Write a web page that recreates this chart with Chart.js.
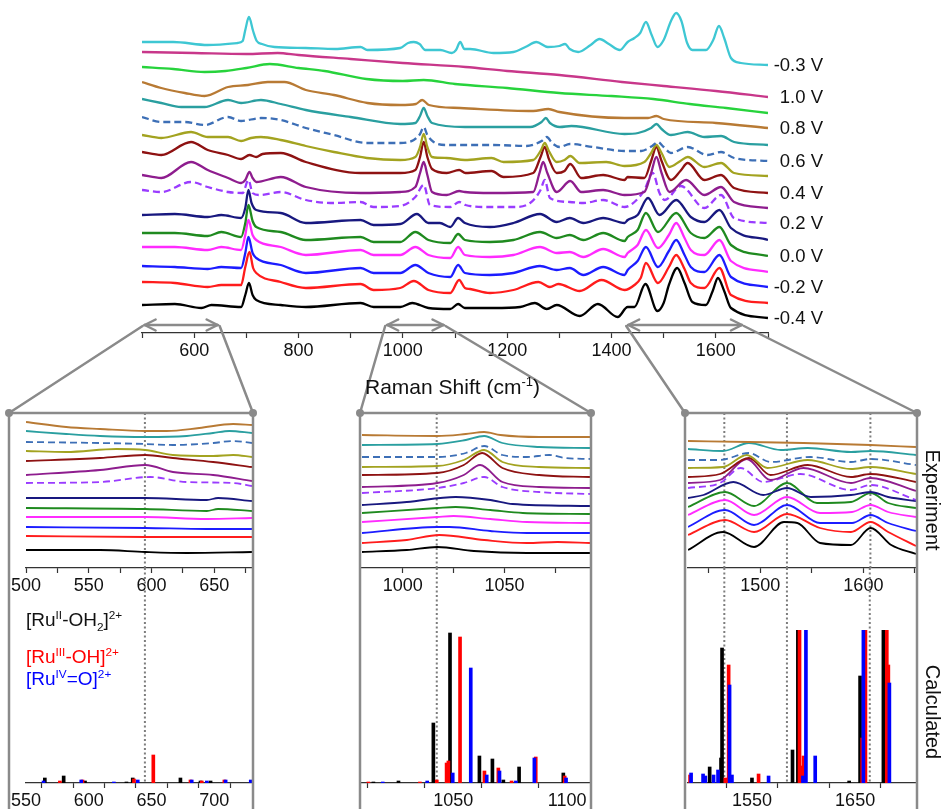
<!DOCTYPE html>
<html>
<head>
<meta charset="utf-8">
<script src="https://cdn.jsdelivr.net/npm/chart.js@4.4.1/dist/chart.umd.min.js"></script>
<style>
  body { margin: 0; background: #fff; font-family: 'Liberation Sans', Arial, sans-serif; }
  #fig { position: relative; width: 943px; height: 809px; overflow: hidden; background: #fff; }
  #fig canvas { position: absolute; }
  .txt { position: absolute; white-space: nowrap; color: #111; }
  .txt sup, .txt sub { font-size: 0.62em; line-height: 0; }
  .vlab { position: absolute; font-size: 20px; color: #111; white-space: nowrap;
          transform: translate(-50%, -50%) rotate(90deg); }
</style>
</head>
<body>
<div id="fig">
  <canvas id="main" width="943" height="360" style="left:0;top:0"></canvas>
  <canvas id="exp1" width="262" height="185" style="left:0;top:413px"></canvas>
  <canvas id="calc1" width="262" height="241" style="left:0;top:568px"></canvas>
  <canvas id="exp2" width="262" height="185" style="left:340px;top:413px"></canvas>
  <canvas id="calc2" width="262" height="241" style="left:340px;top:568px"></canvas>
  <canvas id="exp3" width="275" height="185" style="left:668px;top:413px"></canvas>
  <canvas id="calc3" width="275" height="241" style="left:668px;top:568px"></canvas>
  <canvas id="links" width="943" height="809" style="left:0;top:0;pointer-events:none"></canvas>

  <div class="txt" style="left:365px;top:375px;font-size:21px;line-height:24px">Raman Shift (cm<sup>-1</sup>)</div>
  <div class="txt" style="left:26px;top:610px;font-size:19px;line-height:20px">[Ru<sup>II</sup>-OH<sub>2</sub>]<sup>2+</sup></div>
  <div class="txt" style="left:26px;top:647px;font-size:19px;line-height:20px;color:#ff0000">[Ru<sup>III</sup>-OH]<sup>2+</sup></div>
  <div class="txt" style="left:26px;top:669px;font-size:19px;line-height:20px;color:#0000ff">[Ru<sup>IV</sup>=O]<sup>2+</sup></div>
  <div class="vlab" style="left:932px;top:500px">Experiment</div>
  <div class="vlab" style="left:932px;top:712px">Calculated</div>
</div>

<script>
// ---- measured spectra, [Raman shift cm-1, stacked intensity a.u.] ----
const sCyan = [[500,291],[560,291],[626,288],[683,290],[693,292],[698,303],[705,316],[713,302],[720,292],[730,289],[754,286],[814,285],[870,284],[919,286],[932,283],[995,285],[1010,290],[1021,291],[1032,289],[1043,283],[1072,283],[1094,280],[1102,283],[1110,291],[1118,284],[1129,284],[1174,280],[1212,281],[1235,286],[1256,291],[1278,286],[1300,287],[1311,289],[1320,284],[1336,281],[1360,288],[1377,294],[1395,289],[1416,283],[1431,291],[1444,295],[1455,300],[1466,311],[1477,298],[1488,286],[1500,293],[1514,312],[1524,320],[1534,312],[1545,290],[1555,283],[1581,283],[1595,293],[1606,307],[1616,295],[1629,275],[1648,270],[1700,268]];
const sPink = [[500,281],[600,280],[700,279],[760,280],[800,278],[900,274],[1000,270],[1120,266],[1200,262],[1300,258],[1420,251],[1500,247],[1600,242],[1700,236]];
const sLime = [[500,266],[560,264],[620,261],[660,262],[700,265],[745,269],[800,265],[850,262],[930,254],[1000,252],[1040,253],[1100,249],[1200,245],[1300,240],[1400,237],[1480,234],[1550,229],[1620,225],[1700,220]];
const sBrown = [[500,251],[537,245],[582,240],[620,237],[665,246],[703,248],[741,251],[773,251],[814,243],[868,238],[932,230],[995,228],[1025,229],[1037,233],[1050,228],[1110,225],[1250,222],[1279,224],[1300,221],[1425,215],[1470,215],[1486,217],[1500,214],[1600,210],[1700,205]];
const sTeal = [[500,234],[537,230],[575,226],[620,226],[665,233],[690,230],[728,233],[766,229],[814,223],[900,216],[995,209],[1024,210],[1033,217],[1040,225],[1047,217],[1056,210],[1119,206],[1244,206],[1266,211],[1274,215],[1282,210],[1301,206],[1323,207],[1425,199],[1451,200],[1476,205],[1486,209],[1496,204],[1514,198],[1546,201],[1578,196],[1610,197],[1635,191],[1700,188]];
const sSteel = [[500,216],[537,211],[582,211],[620,208],[665,216],[690,212],[728,215],[766,213],[814,205],[868,198],[931,190],[995,190],[1021,193],[1033,199],[1040,206],[1047,198],[1059,191],[1084,188],[1174,188],[1237,187],[1266,192],[1276,196],[1286,190],[1301,186],[1320,189],[1365,186],[1425,182],[1457,182],[1478,187],[1489,191],[1500,186],[1514,180],[1546,186],[1584,178],[1610,181],[1635,175],[1700,172]];
const sOlive = [[500,198],[537,195],[594,201],[626,196],[665,196],[690,192],[709,195],[728,196],[766,193],[814,187],[868,181],[931,175],[995,173],[1024,176],[1033,186],[1040,199],[1047,186],[1056,176],[1084,175],[1119,173],[1170,175],[1193,171],[1250,173],[1265,183],[1272,190],[1280,182],[1295,171],[1310,173],[1321,177],[1339,170],[1390,171],[1425,167],[1463,171],[1476,180],[1486,188],[1496,180],[1511,166],[1532,172],[1546,176],[1578,166],[1610,170],[1635,160],[1700,157]];
const sMaroon = [[500,181],[537,178],[594,191],[626,183],[665,178],[690,174],[706,178],[719,176],[731,179],[766,180],[814,171],[919,160],[995,160],[1024,163],[1033,176],[1040,191],[1047,176],[1056,164],[1084,160],[1108,163],[1120,160],[1170,162],[1193,156],[1250,160],[1264,176],[1272,186],[1280,174],[1295,160],[1310,162],[1321,169],[1342,155],[1384,158],[1425,153],[1431,156],[1463,155],[1476,172],[1486,186],[1496,172],[1514,153],[1532,162],[1546,170],[1578,153],[1610,158],[1635,145],[1700,140]];
const sPurple = [[500,158],[537,155],[594,171],[626,163],[665,155],[690,150],[698,153],[706,161],[712,155],[719,151],[766,156],[814,146],[919,140],[995,141],[1024,146],[1033,160],[1040,171],[1047,158],[1056,141],[1084,138],[1108,142],[1119,141],[1170,140],[1250,141],[1262,160],[1269,171],[1277,160],[1295,141],[1321,152],[1342,141],[1384,143],[1425,138],[1463,141],[1476,160],[1486,176],[1496,160],[1511,141],[1543,153],[1578,138],[1610,146],[1635,131],[1700,125]];
const sViolet = [[500,143],[537,141],[594,151],[626,146],[665,141],[693,140],[704,153],[712,140],[725,138],[766,141],[814,133],[868,130],[919,131],[944,126],[995,127],[1024,136],[1040,148],[1052,128],[1091,126],[1108,131],[1120,128],[1161,126],[1212,126],[1244,130],[1264,143],[1272,153],[1282,135],[1320,131],[1346,130],[1384,133],[1425,126],[1444,131],[1463,143],[1479,160],[1492,140],[1502,133],[1533,147],[1578,125],[1610,138],[1635,115],[1700,110]];
const sNavy = [[500,118],[563,119],[626,116],[652,118],[690,115],[698,125],[704,143],[710,130],[719,123],[766,120],[814,110],[919,113],[944,108],[995,109],[1027,119],[1049,110],[1071,110],[1091,106],[1106,115],[1119,110],[1167,106],[1212,110],[1263,119],[1295,111],[1320,115],[1346,110],[1384,115],[1425,110],[1431,113],[1450,118],[1470,135],[1492,118],[1524,133],[1552,116],[1578,111],[1607,123],[1629,105],[1700,93]];
const sGreen = [[500,100],[563,100],[626,97],[652,101],[690,96],[698,110],[704,128],[712,112],[719,106],[766,101],[814,93],[919,96],[944,91],[995,91],[1024,101],[1049,93],[1091,90],[1106,99],[1119,93],[1167,91],[1212,93],[1263,101],[1295,95],[1320,98],[1346,93],[1384,100],[1425,92],[1431,96],[1450,103],[1466,120],[1489,101],[1524,120],[1552,100],[1578,95],[1607,106],[1629,88],[1700,77]];
const sMagenta = [[500,86],[563,86],[626,83],[652,86],[690,83],[698,98],[704,113],[712,98],[719,93],[766,86],[814,78],[919,83],[944,78],[995,78],[1024,86],[1049,78],[1091,75],[1106,86],[1119,78],[1167,76],[1212,78],[1263,86],[1295,80],[1320,81],[1346,76],[1384,84],[1425,76],[1431,80],[1450,88],[1466,103],[1489,85],[1510,98],[1524,110],[1540,95],[1552,83],[1578,78],[1607,93],[1629,72],[1700,61]];
const sBlue = [[500,67],[563,66],[626,64],[652,66],[690,65],[698,80],[704,96],[712,80],[719,75],[766,68],[814,60],[919,65],[944,60],[995,60],[1024,68],[1049,60],[1091,56],[1106,68],[1119,60],[1167,58],[1212,60],[1263,67],[1295,63],[1320,65],[1346,58],[1384,66],[1425,58],[1431,63],[1450,72],[1466,86],[1489,66],[1510,82],[1524,93],[1540,78],[1552,66],[1578,61],[1607,78],[1629,56],[1700,46]];
const sRed = [[500,51],[563,50],[626,46],[652,48],[690,48],[698,66],[706,81],[713,65],[719,60],[766,51],[814,45],[919,49],[944,43],[995,45],[1021,52],[1049,43],[1091,40],[1108,53],[1119,45],[1129,44],[1167,40],[1212,43],[1260,51],[1282,46],[1298,49],[1339,42],[1381,53],[1425,43],[1444,48],[1456,55],[1466,70],[1489,50],[1510,66],[1524,78],[1540,64],[1552,50],[1578,45],[1607,65],[1629,38],[1700,30]];
const sBlack = [[500,28],[563,29],[614,25],[633,28],[690,26],[698,38],[705,50],[712,38],[719,33],[766,28],[814,26],[919,30],[944,26],[995,26],[1018,30],[1049,25],[1091,24],[1106,29],[1119,25],[1174,25],[1225,26],[1253,30],[1276,24],[1295,28],[1339,17],[1374,29],[1412,16],[1431,26],[1444,26],[1465,49],[1488,22],[1500,30],[1510,48],[1526,65],[1540,50],[1555,31],[1581,28],[1594,42],[1604,55],[1616,42],[1629,25],[1700,15]];

const mainSeries = [sCyan, sPink, sLime, sBrown, sTeal, sSteel, sOlive, sMaroon, sPurple, sViolet, sNavy, sGreen, sMagenta, sBlue, sRed, sBlack];
const voltLabels = ['-0.3 V', '1.0 V', '', '0.8 V', '', '0.6 V', '', '0.4 V', '', '0.2 V', '', '0.0 V', '', '-0.2 V', '', '-0.4 V'];
const traceColors = ['#3ec7d3', '#c8378a', '#27d33c', '#b87a34', '#2a9fa0', '#3d6fb6', '#a3a320', '#8e1212',
                     '#8e1d8e', '#9a3cff', '#18187f', '#1f8a1f', '#ff2bff', '#1c1cff', '#ff1c1c', '#000000'];
const dashedTraces = [5, 9];

// ---- zoomed experimental windows (brown ... black, baseline corrected) ----
const exp1 = [
  [[500,146],[532,141],[559,139],[595,137],[612,137],[638,140],[665,144],[680,143]],
  [[500,137],[532,134],[559,132],[595,131],[628,132],[649,135],[662,137],[680,135]],
  [[500,126],[559,125],[595,124],[617,123],[649,125],[665,127],[680,125]],
  [[500,117],[532,116],[572,119],[595,118],[617,113],[649,112],[665,113],[680,111]],
  [[500,107],[559,110],[595,113],[617,110],[649,106],[680,101]],
  [[500,93],[559,98],[595,103],[617,96],[649,93],[680,87]],
  [[500,85],[559,86],[599,91],[628,86],[665,85],[680,82]],
  [[500,70],[559,70],[595,70],[644,68],[653,70],[680,67]],
  [[500,60],[595,59],[644,57],[653,59],[680,57]],
  [[500,51],[595,51],[644,49],[680,50]],
  [[500,41],[595,40],[644,39],[680,39]],
  [[500,32],[595,31],[644,31],[680,31]],
  [[500,18],[559,18],[595,16],[628,15],[680,16]]
];
const exp2 = [
  [[980,133],[1017,132],[1031,134],[1040,136],[1048,133],[1067,131],[1092,131]],
  [[980,123],[1017,124],[1031,128],[1040,132],[1049,125],[1067,121],[1092,120]],
  [[980,111],[1017,111],[1031,115],[1040,122],[1049,113],[1061,111],[1072,113],[1080,110],[1092,109]],
  [[980,101],[1017,102],[1030,108],[1040,118],[1049,106],[1067,101],[1092,100]],
  [[980,93],[1017,95],[1030,103],[1039,115],[1049,100],[1067,93],[1092,91]],
  [[980,81],[1017,85],[1030,93],[1038,103],[1049,86],[1067,81],[1092,80]],
  [[980,75],[1017,80],[1030,85],[1040,91],[1049,81],[1067,76],[1092,74]],
  [[980,63],[1002,66],[1026,71],[1043,68],[1054,64],[1092,62]],
  [[980,55],[1017,60],[1026,61],[1043,58],[1059,55],[1092,54]],
  [[980,46],[1017,51],[1025,52],[1043,49],[1061,46],[1092,45]],
  [[980,35],[1017,41],[1023,41],[1043,37],[1061,35],[1092,35]],
  [[980,25],[1002,28],[1018,33],[1040,28],[1061,25],[1076,26],[1092,25]],
  [[980,16],[1002,18],[1017,21],[1035,17],[1061,15],[1092,15]]
];
const exp3 = [
  [[1430,127],[1489,126],[1542,125],[1607,123],[1651,121]],
  [[1430,119],[1464,117],[1489,125],[1520,118],[1546,120],[1588,116],[1607,117],[1651,113]],
  [[1430,108],[1461,108],[1489,115],[1510,106],[1549,111],[1588,106],[1607,109],[1651,103]],
  [[1430,100],[1464,101],[1487,113],[1507,100],[1546,108],[1588,99],[1607,101],[1651,94]],
  [[1430,91],[1461,94],[1489,110],[1510,93],[1546,103],[1588,91],[1607,94],[1651,86]],
  [[1430,85],[1461,88],[1487,109],[1510,88],[1542,100],[1588,85],[1607,90],[1651,77]],
  [[1430,80],[1461,85],[1481,100],[1503,86],[1539,94],[1588,78],[1607,83],[1651,68]],
  [[1430,70],[1445,73],[1474,86],[1503,73],[1526,80],[1549,71],[1588,73],[1607,76],[1624,71],[1651,67]],
  [[1430,61],[1466,76],[1494,62],[1526,85],[1555,65],[1588,66],[1607,75],[1624,65],[1651,60]],
  [[1430,53],[1466,68],[1494,53],[1526,71],[1558,55],[1589,56],[1607,63],[1624,56],[1651,51]],
  [[1430,41],[1466,58],[1494,43],[1526,63],[1558,45],[1589,45],[1607,53],[1624,45],[1651,37]],
  [[1430,33],[1466,48],[1494,36],[1526,54],[1558,40],[1588,36],[1607,46],[1624,36],[1651,22]],
  [[1430,18],[1464,36],[1494,21],[1523,46],[1536,45],[1558,25],[1588,23],[1607,40],[1627,23],[1651,14]]
];

// ---- calculated Raman lines, [shift cm-1, intensity a.u.] ----
const calc1RuII = [[565,5],[580,7],[597,2],[630,1],[635,5],[673,5],[689,2],[697,2]];
const calc1RuIII = [[577,2],[595,3],[636,4],[651.4,28],[681,3],[690,2],[708,3]];
const calc1RuIV = [[564,2],[594,3],[620,1],[639,3],[682,3],[694,2],[709,3],[729,3]];
const calc2RuII = [[1015,1],[1026,2],[1041.3,60],[1048.6,150],[1061.5,27],[1067.2,24],[1072,3],[1078.9,16],[1098.3,10]];
const calc2RuIII = [[1012.8,1],[1035.4,1],[1042.8,3],[1047.1,20],[1047.9,22],[1053,146],[1063.7,12],[1069.8,15],[1075.6,2],[1086.2,26],[1098.9,7]];
const calc2RuIV = [[1019.1,1],[1038.6,2],[1049.8,10],[1057.7,115],[1064.7,8],[1070.3,12],[1077.5,2],[1085.6,25],[1099.5,5]];
const calc3RuII = [[1503.8,6],[1509,16],[1520,25],[1521,135],[1550,5],[1589.3,33],[1594.5,170],[1644.2,2],[1654.8,107],[1677.4,170],[1679,170]];
const calc3RuIII = [[1490,8],[1524.2,5],[1527.4,118],[1556.4,9],[1596.1,170],[1598.4,17],[1600,27],[1656.8,45],[1660,170],[1680.7,170],[1682.2,118]];
const calc3RuIV = [[1491,10],[1502.6,9],[1504.8,7],[1512.8,8],[1517.1,13],[1528.3,98],[1530.6,8],[1566.1,7],[1599.4,7],[1602.3,170],[1611.3,27],[1658,170],[1683.2,100]];

// ---- window settings ----
const zoomSpans = [[505, 645], [970, 1078], [1432, 1650]];
const expRanges = [[500, 680], [980, 1092], [1430, 1651]];
const calcRanges = [[550, 730], [1010, 1110], [1488, 1709]];
const expSteps = [25, 25, 50];
const expLabelEvery = [50, 50, 100];
const calcSteps = [25, 25, 50];
const calcLabelEvery = [50, 50, 100];
const calcLabelPhase = [0, 0, 50];
const expMarks = [[594.7], [1016.7], [1465.2, 1525.9, 1606.8]];
const calcMarks = [[644.7], [1042.8], [1523.2, 1583.9, 1664.2]];

Chart.defaults.font.family = "'Liberation Sans', Arial, sans-serif";
Chart.defaults.color = '#111';

// dotted guide lines at given shifts
Chart.register({
  id: 'marks',
  beforeDatasetsDraw(chart, args, opts) {
    if (!opts.values) return;
    const { ctx, chartArea } = chart;
    const xs = chart.scales.x;
    ctx.save();
    ctx.strokeStyle = '#7d7d7d';
    ctx.lineWidth = 2;
    ctx.setLineDash([2, 2.5]);
    opts.values.forEach(v => {
      const x = xs.getPixelForValue(v);
      ctx.beginPath();
      ctx.moveTo(x, opts.fromTop ? 0 : chartArea.top);
      ctx.lineTo(x, chartArea.bottom);
      ctx.stroke();
    });
    ctx.restore();
  }
});

// potential labels at the right end of the traces
Chart.register({
  id: 'endLabels',
  afterDatasetsDraw(chart, args, opts) {
    if (!opts.x) return;
    const ctx = chart.ctx;
    ctx.save();
    ctx.font = "18.5px 'Liberation Sans', Arial, sans-serif";
    ctx.fillStyle = '#111';
    ctx.textAlign = 'right';
    ctx.textBaseline = 'middle';
    chart.data.datasets.forEach((ds, i) => {
      if (!ds.label) return;
      const pts = chart.getDatasetMeta(i).data;
      ctx.fillText(ds.label, opts.x, pts[pts.length - 1].y + 1);
    });
    ctx.restore();
  }
});

function xAxis(range, step, every, phase, height) {
  return {
    type: 'linear', min: range[0], max: range[1], offset: false,
    // regular ticks only, no extra ones at the range ends
    afterBuildTicks: s => {
      const ticks = [];
      for (let v = Math.ceil(range[0] / step) * step; v <= range[1]; v += step) ticks.push({ value: v });
      s.ticks = ticks;
    },
    afterFit: s => { s.height = height; },
    ticks: {
      autoSkip: false, maxRotation: 0, padding: 2, stepSize: step,
      font: { size: 18 }, color: '#111',
      callback: v => ((v - phase) % every === 0 ? String(v) : '')
    },
    grid: { drawOnChartArea: false, tickLength: 5, tickColor: '#333', tickWidth: 1.2 },
    border: { color: '#333', width: 1.2 }
  };
}

function lineSet(points, color, dashed, width, label) {
  return {
    label: label || '',
    data: points.map(p => ({ x: p[0], y: p[1] })),
    borderColor: color, borderWidth: width,
    borderDash: dashed ? [7, 4] : [],
    pointRadius: 0, fill: false,
    cubicInterpolationMode: 'monotone'
  };
}

function baseOptions(padding, xs, ymax) {
  return {
    responsive: false, animation: false, devicePixelRatio: 1,
    layout: { padding },
    scales: { x: xs, y: { display: false, min: 0, max: ymax } },
    plugins: { legend: { display: false }, tooltip: { enabled: false } }
  };
}

// main stacked spectra
const mainOpts = baseOptions({ top: 10, left: 142, right: 175, bottom: 0 },
  xAxis([500, 1700], 100, 200, 0, 27), 323);
mainOpts.plugins.endLabels = { x: 823 };
const mainChart = new Chart(document.getElementById('main'), {
  type: 'line',
  data: {
    datasets: mainSeries.map((s, i) =>
      lineSet(s, traceColors[i], dashedTraces.includes(i), 2.3, voltLabels[i]))
  },
  options: mainOpts
});

// zoomed windows: experiment on top, calculated lines below
const expData = [exp1, exp2, exp3];
const calcData = [[calc1RuII, calc1RuIII, calc1RuIV], [calc2RuII, calc2RuIII, calc2RuIV], [calc3RuII, calc3RuIII, calc3RuIV]];
const insetPads = [{ left: 26, right: 10 }, { left: 22, right: 12 }, { left: 20, right: 27 }];
const calcColors = ['#000000', '#ff0000', '#0000ff'];

expData.forEach((traces, k) => {
  const pad = insetPads[k];
  const eo = baseOptions({ top: 0, bottom: 0, left: pad.left, right: pad.right },
    xAxis(expRanges[k], expSteps[k], expLabelEvery[k], 0, 30), 155);
  eo.plugins.marks = { values: expMarks[k] };
  new Chart(document.getElementById('exp' + (k + 1)), {
    type: 'line',
    data: { datasets: traces.map((t, i) => lineSet(t, traceColors[i + 3], dashedTraces.includes(i + 3), 1.8)) },
    options: eo
  });

  const co = baseOptions({ top: 62, bottom: 0, left: pad.left, right: pad.right },
    xAxis(calcRanges[k], calcSteps[k], calcLabelEvery[k], calcLabelPhase[k], 26), 153);
  co.plugins.marks = { values: calcMarks[k], fromTop: true };
  new Chart(document.getElementById('calc' + (k + 1)), {
    type: 'bar',
    data: {
      datasets: calcData[k].map((bars, i) => ({
        data: bars.map(b => ({ x: b[0], y: b[1] })),
        backgroundColor: calcColors[i],
        barThickness: 3, grouped: false, clip: 0,
        order: 2 - i
      }))
    },
    options: co
  });
});

// zoom brackets, connector lines and window frames
const frames = [{ left: 9, right: 253 }, { left: 360, right: 591 }, { left: 685, right: 917 }];
(function drawLinks() {
  const c = document.getElementById('links').getContext('2d');
  const xs = mainChart.scales.x;
  const arrowY = 325, frameTop = 413;
  c.strokeStyle = '#8a8a8a';
  c.fillStyle = '#8a8a8a';
  c.lineWidth = 2.5;
  c.lineCap = 'round';
  const seg = (x1, y1, x2, y2) => { c.beginPath(); c.moveTo(x1, y1); c.lineTo(x2, y2); c.stroke(); };
  frames.forEach((f, i) => {
    const x1 = xs.getPixelForValue(zoomSpans[i][0]);
    const x2 = xs.getPixelForValue(zoomSpans[i][1]);
    seg(x1, arrowY, x2, arrowY);
    seg(x1, arrowY, x1 + 11, arrowY - 5.5); seg(x1, arrowY, x1 + 11, arrowY + 5.5);
    seg(x2, arrowY, x2 - 11, arrowY - 5.5); seg(x2, arrowY, x2 - 11, arrowY + 5.5);
    seg(x1 - 2, arrowY + 1, f.left, frameTop);
    seg(x2 + 2, arrowY + 1, f.right, frameTop);
    c.beginPath();
    c.moveTo(f.left, 820); c.lineTo(f.left, frameTop); c.lineTo(f.right, frameTop); c.lineTo(f.right, 820);
    c.stroke();
    [f.left, f.right].forEach(x => { c.beginPath(); c.arc(x, frameTop, 4, 0, Math.PI * 2); c.fill(); });
  });
})();
</script>
</body>
</html>
